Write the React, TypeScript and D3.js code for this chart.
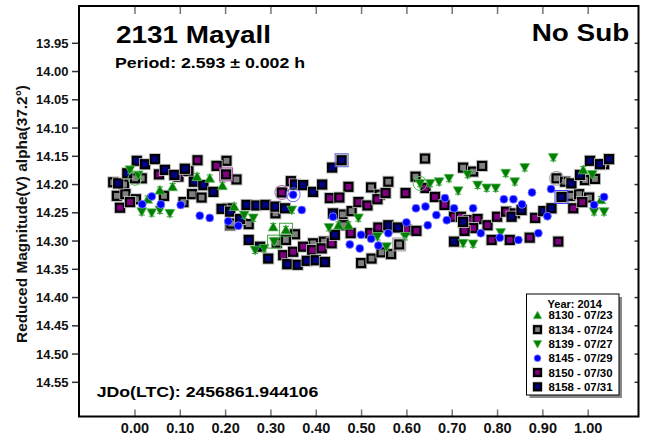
import React from 'react';
import * as d3 from 'd3';

const W = 647;
const H = 441;

// Axis ticks
const xTicks = [0.0, 0.1, 0.2, 0.3, 0.4, 0.5, 0.6, 0.7, 0.8, 0.9, 1.0];
const yTicks = [13.95, 14.0, 14.05, 14.1, 14.15, 14.2, 14.25, 14.3, 14.35, 14.4, 14.45, 14.5, 14.55];

// Series data: [phase, reduced magnitude]
const s8130: [number, number][] = [
  [0.028, 14.226], [0.055, 14.21], [0.083, 14.204], [0.137, 14.186], [0.165, 14.189],
  [0.193, 14.202], [0.219, 14.239], [0.305, 14.275], [0.333, 14.28], [0.449, 14.272],
  [0.471, 14.272], [0.989, 14.174], [1.028, 14.227],
];
const s8134: [number, number][] = [
  [-0.048, 14.196], [-0.024, 14.2], [0.015, 14.189], [0.0, 14.189], [-0.04, 14.22],
  [-0.021, 14.217], [0.002, 14.226], [0.064, 14.22], [0.107, 14.231], [0.126, 14.217],
  [0.147, 14.223], [0.202, 14.158], [0.224, 14.191], [0.21, 14.272], [0.205, 14.242],
  [0.213, 14.269], [0.251, 14.27], [0.31, 14.251], [0.353, 14.288], [0.313, 14.303],
  [0.333, 14.298], [0.393, 14.304], [0.417, 14.301], [0.458, 14.253], [0.478, 14.247],
  [0.46, 14.272], [0.499, 14.339], [0.522, 14.331], [0.544, 14.32], [0.565, 14.323],
  [0.583, 14.306], [0.521, 14.205], [0.54, 14.218], [0.559, 14.195], [0.619, 14.186],
  [0.64, 14.154], [0.724, 14.17], [0.746, 14.177], [0.766, 14.167], [0.93, 14.189],
  [0.949, 14.195], [0.993, 14.192], [1.015, 14.19], [0.96, 14.22], [0.98, 14.217],
  [1.002, 14.223], [1.035, 14.164],
];
const s8139: [number, number][] = [
  [-0.011, 14.174], [0.007, 14.183], [0.015, 14.248], [0.037, 14.25], [0.055, 14.245],
  [0.077, 14.251], [0.346, 14.245], [0.241, 14.254], [0.261, 14.259], [0.307, 14.301],
  [0.265, 14.316], [0.285, 14.313], [0.493, 14.259], [0.428, 14.276], [0.535, 14.292],
  [0.555, 14.31], [0.596, 14.292], [0.651, 14.198], [0.671, 14.195], [0.693, 14.189],
  [0.713, 14.211], [0.734, 14.182], [0.756, 14.201], [0.776, 14.206], [0.796, 14.206],
  [0.818, 14.18], [0.838, 14.195], [0.86, 14.17], [0.923, 14.152], [1.009, 14.182],
  [1.013, 14.248], [1.035, 14.248], [0.724, 14.304], [0.746, 14.305], [0.807, 14.285],
  [0.629, 14.198],
];
const s8145: [number, number][] = [
  [0.037, 14.221], [0.016, 14.235], [0.057, 14.235], [0.101, 14.236], [0.143, 14.255],
  [0.165, 14.259], [0.206, 14.265], [0.228, 14.273], [0.349, 14.218], [0.368, 14.245],
  [0.437, 14.257], [0.474, 14.306], [0.496, 14.313], [0.499, 14.289], [0.521, 14.296],
  [0.537, 14.308], [0.559, 14.286], [0.599, 14.267], [0.62, 14.242], [0.641, 14.239],
  [0.646, 14.272], [0.665, 14.254], [0.684, 14.224], [0.688, 14.263], [0.704, 14.242],
  [0.746, 14.242], [0.763, 14.286], [0.814, 14.226], [0.835, 14.226], [0.854, 14.235],
  [0.876, 14.214], [0.918, 14.208], [0.805, 14.294], [0.846, 14.298], [0.89, 14.286],
  [0.91, 14.256], [1.013, 14.236], [1.035, 14.222],
];
const s8150: [number, number][] = [
  [-0.033, 14.241], [-0.011, 14.231], [0.053, 14.182], [0.096, 14.186], [0.118, 14.176],
  [0.138, 14.157], [0.18, 14.167], [0.201, 14.182], [0.324, 14.214], [0.344, 14.194],
  [0.471, 14.204], [0.43, 14.224], [0.451, 14.223], [0.493, 14.231], [0.476, 14.286],
  [0.327, 14.325], [0.349, 14.319], [0.371, 14.31], [0.391, 14.316], [0.412, 14.313],
  [0.434, 14.304], [0.513, 14.237], [0.535, 14.226], [0.553, 14.215], [0.597, 14.215],
  [0.641, 14.206], [0.662, 14.222], [0.683, 14.236], [0.519, 14.286], [0.537, 14.276],
  [0.599, 14.28], [0.621, 14.282], [0.704, 14.257], [0.719, 14.257], [0.736, 14.263],
  [0.756, 14.261], [0.778, 14.272], [0.746, 14.277], [0.727, 14.282], [0.787, 14.298],
  [0.799, 14.257], [0.819, 14.248], [0.838, 14.251], [0.827, 14.298], [0.871, 14.294],
  [0.883, 14.259], [0.934, 14.301], [0.967, 14.242], [0.987, 14.231],
];
const s8158: [number, number][] = [
  [-0.037, 14.198], [-0.017, 14.18], [0.004, 14.158], [0.022, 14.164], [0.044, 14.155],
  [0.066, 14.174], [0.087, 14.183], [0.11, 14.172], [0.13, 14.195], [0.151, 14.201],
  [0.173, 14.213], [0.191, 14.243], [0.21, 14.248], [0.232, 14.261], [0.246, 14.236],
  [0.268, 14.237], [0.288, 14.236], [0.31, 14.239], [0.331, 14.242], [0.353, 14.2],
  [0.371, 14.201], [0.393, 14.213], [0.413, 14.2], [0.435, 14.17], [0.456, 14.157],
  [0.251, 14.298], [0.276, 14.31], [0.294, 14.331], [0.336, 14.341], [0.359, 14.342],
  [0.379, 14.335], [0.399, 14.334], [0.419, 14.337], [0.437, 14.251], [0.441, 14.289],
  [0.559, 14.272], [0.58, 14.276], [0.724, 14.266], [0.704, 14.301], [0.831, 14.257],
  [0.853, 14.245], [0.901, 14.247], [0.919, 14.242], [0.941, 14.222], [0.963, 14.198],
  [0.982, 14.183], [1.004, 14.158], [1.026, 14.164], [1.046, 14.155],
];

// Highlighted (ringed) observations: [phase, mag, colour]
const ringCircles: [number, number, string][] = [
  [0.0, 14.189, '#5cb85c'], [0.324, 14.214, '#b060b0'], [0.349, 14.218, '#6a6aff'],
  [0.629, 14.198, '#5cb85c'], [0.93, 14.189, '#a0a0a0'],
];
const ringSquares: [number, number, string][] = [
  [0.201, 14.182, '#a040a0'], [0.333, 14.28, '#40a040'], [0.307, 14.301, '#40a040'],
  [0.456, 14.157, '#6060d0'], [0.583, 14.306, '#a0a0a0'], [0.941, 14.222, '#4040ff'],
];

const legendLabels = ['8130 - 07/23', '8134 - 07/24', '8139 - 07/27', '8145 - 07/29', '8150 - 07/30', '8158 - 07/31'];

type Shape = 'triUp' | 'triDown' | 'circle' | 'square';
interface Series { data: [number, number][]; shape: Shape; fill: string; err: number; errColor: string; }

const seriesList: Series[] = [
  { data: s8130, shape: 'triUp', fill: '#008000', err: 0.006, errColor: '#2e9a2e' },
  { data: s8134, shape: 'square', fill: '#808080', err: 0.005, errColor: '#b0b0b0' },
  { data: s8139, shape: 'triDown', fill: '#008000', err: 0.006, errColor: '#2e9a2e' },
  { data: s8145, shape: 'circle', fill: '#0000ff', err: 0.005, errColor: '#7a7aff' },
  { data: s8150, shape: 'square', fill: '#800080', err: 0.005, errColor: '#b080b0' },
  { data: s8158, shape: 'square', fill: '#000080', err: 0.005, errColor: '#7070c8' },
];
const drawOrder = [1, 4, 5, 0, 2, 3];

const FONT = '"Liberation Sans", Arial, sans-serif';
const L = 79, R = 638.5, T = 6, B = 416.5;

function Marker({ shape, x, y, fill, s = 1 }: { shape: Shape; x: number; y: number; fill: string; s?: number }) {
  if (shape === 'square') {
    return (
      <g>
        <rect x={x - 5.5 * s} y={y - 5.5 * s} width={11 * s} height={11 * s} fill="none" stroke="#c0c0c0" strokeWidth={1} />
        <rect x={x - 4 * s} y={y - 4 * s} width={8 * s} height={8 * s} fill={fill} stroke="#000" strokeWidth={2.2} />
      </g>
    );
  }
  if (shape === 'circle') {
    return <circle cx={x} cy={y} r={4 * s} fill={fill} stroke="#8c8cff" strokeWidth={0.8} />;
  }
  const d = shape === 'triUp'
    ? `M${x},${y - 5 * s}L${x + 5 * s},${y + 4 * s}L${x - 5 * s},${y + 4 * s}Z`
    : `M${x},${y + 5 * s}L${x + 5 * s},${y - 4 * s}L${x - 5 * s},${y - 4 * s}Z`;
  return <path d={d} fill={fill} stroke="#6fbf6f" strokeWidth={0.7} />;
}

export default function App() {
  const x = d3.scaleLinear().domain([-0.1235, 1.111]).range([L, R]);
  const y = d3.scaleLinear().domain([13.884, 14.6105]).range([T, B]);

  const legX = 526.5, legY = 294, legW = 92.5, legH = 101;

  return (
    <svg width={W} height={H} style={{ position: 'absolute', left: 0, top: 0, background: '#fff' }} fontFamily={FONT}>
      <rect x={0} y={0} width={W} height={H} fill="#fff" />
      {/* ticks */}
      {xTicks.map((t) => (
        <g key={'xt' + t}>
          <line x1={x(t)} x2={x(t)} y1={T} y2={T + 8} stroke="#777" strokeWidth={1.5} />
          <line x1={x(t)} x2={x(t)} y1={B} y2={B - 7} stroke="#777" strokeWidth={1.5} />
          <text x={x(t)} y={433} textAnchor="middle" fontSize={14.5} fontWeight="bold" fill="#111">{t.toFixed(2)}</text>
        </g>
      ))}
      {yTicks.map((t) => (
        <g key={'yt' + t}>
          <line x1={L - 7} x2={L} y1={y(t)} y2={y(t)} stroke="#333" strokeWidth={1.5} />
          <line x1={R - 4} x2={R} y1={y(t)} y2={y(t)} stroke="#333" strokeWidth={1.5} />
          <text x={68.5} y={y(t) + 4.6} textAnchor="end" fontSize={13} fontWeight="bold" fill="#111">{t.toFixed(2)}</text>
        </g>
      ))}
      <text transform="translate(27,214) rotate(-90)" textAnchor="middle" fontSize={14.5} fontWeight="bold" fill="#111"
        textLength={258} lengthAdjust="spacingAndGlyphs">Reduced Magnitude(V) alpha(37.2°)</text>

      {/* data */}
      {drawOrder.map((si) => {
        const s = seriesList[si];
        return (
          <g key={'s' + si}>
            {s.data.map(([p, m], i) => {
              const cx = x(p), cy = y(m);
              const y1 = y(m - s.err), y2 = y(m + s.err);
              return (
                <g key={i}>
                  <line x1={cx} x2={cx} y1={y1} y2={y2} stroke={s.errColor} strokeWidth={1} />
                  <line x1={cx - 3} x2={cx + 3} y1={y1} y2={y1} stroke={s.errColor} strokeWidth={1} />
                  <line x1={cx - 3} x2={cx + 3} y1={y2} y2={y2} stroke={s.errColor} strokeWidth={1} />
                  <Marker shape={s.shape} x={cx} y={cy} fill={s.fill} />
                </g>
              );
            })}
          </g>
        );
      })}
      {ringCircles.map(([p, m, c], i) => (
        <circle key={'rc' + i} cx={x(p)} cy={y(m)} r={7} fill="none" stroke={c} strokeWidth={1} />
      ))}
      {ringSquares.map(([p, m, c], i) => (
        <rect key={'rs' + i} x={x(p) - 6.5} y={y(m) - 6.5} width={13} height={13} fill="none" stroke={c} strokeWidth={1} />
      ))}

      {/* frame */}
      <rect x={L} y={T} width={R - L} height={B - T} fill="none" stroke="#000" strokeWidth={2} />

      {/* texts */}
      <text x={116} y={42.7} fontSize={24} fontWeight="bold" fill="#000" textLength={155} lengthAdjust="spacingAndGlyphs">2131 Mayall</text>
      <text x={115} y={68.3} fontSize={15.5} fontWeight="bold" fill="#000" textLength={190} lengthAdjust="spacingAndGlyphs">Period: 2.593 ± 0.002 h</text>
      <text x={531.7} y={41} fontSize={24} fontWeight="bold" fill="#000" textLength={97.6} lengthAdjust="spacingAndGlyphs">No Sub</text>
      <text x={96.7} y={396.7} fontSize={15.5} fontWeight="bold" fill="#000" textLength={221.6} lengthAdjust="spacingAndGlyphs">JDo(LTC): 2456861.944106</text>

      {/* legend */}
      <rect x={legX + 3} y={legY + 3} width={legW} height={legH} fill="#888" />
      <rect x={legX} y={legY} width={legW} height={legH} fill="#fff" stroke="#000" strokeWidth={1} />
      <text x={legX + legW / 2 + 2} y={legY + 13.5} textAnchor="middle" fontSize={11} fontWeight="bold" fill="#000">Year: 2014</text>
      {seriesList.map((s, i) => {
        const cy = 315.3 + i * 14.3;
        return (
          <g key={'lg' + i}>
            <Marker shape={s.shape} x={537.5} y={cy} fill={s.fill} s={0.85} />
            <text x={548.5} y={cy + 4} fontSize={11} fontWeight="bold" fill="#000" textLength={64} lengthAdjust="spacingAndGlyphs">{legendLabels[i]}</text>
          </g>
        );
      })}
    </svg>
  );
}
